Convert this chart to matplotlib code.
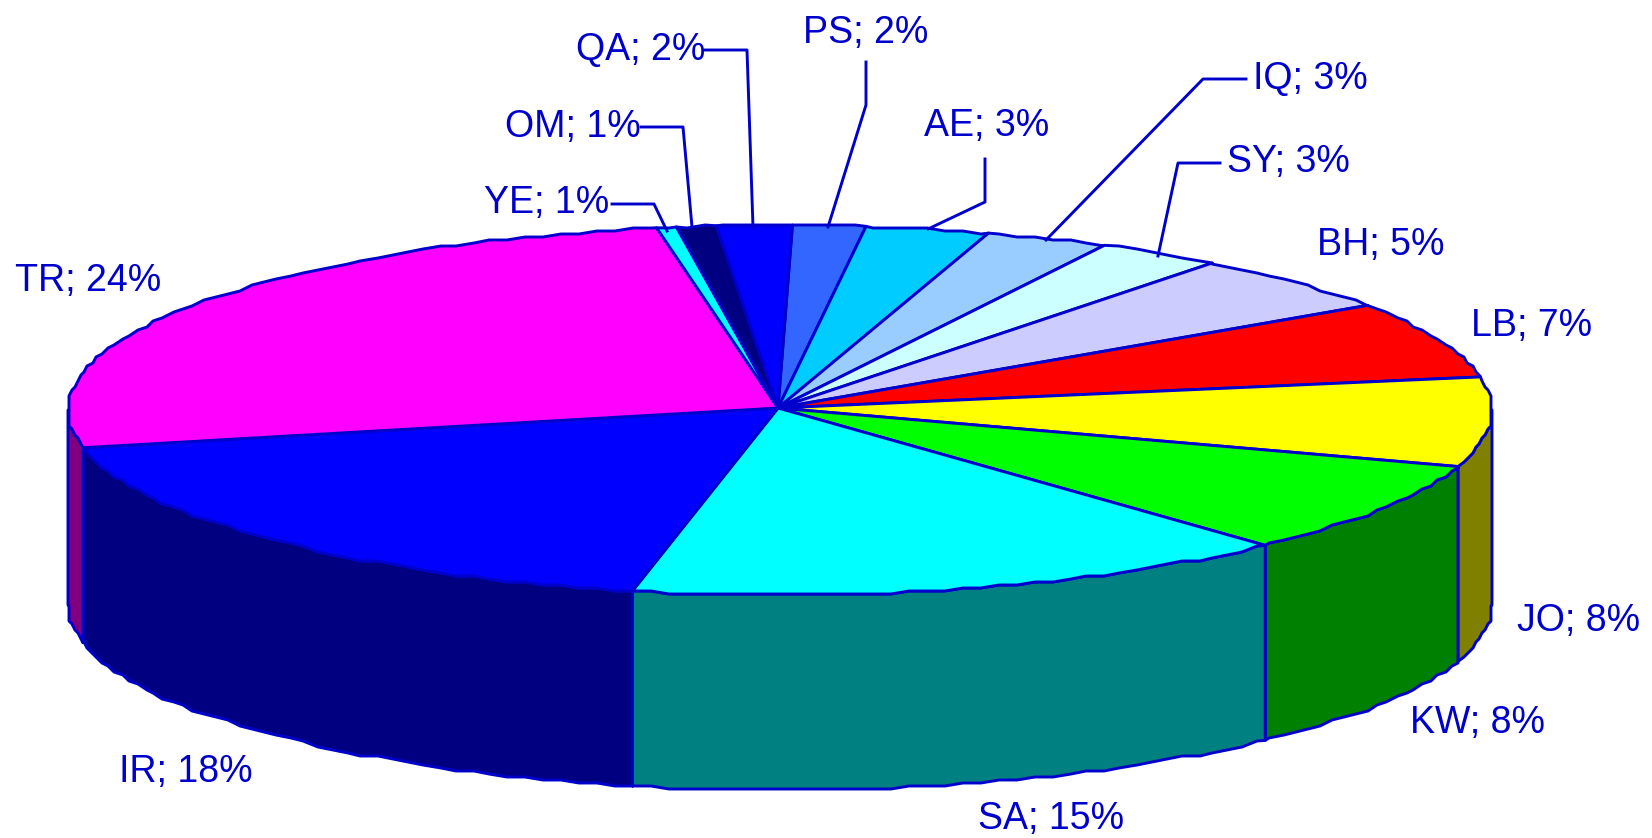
import numpy as np
import matplotlib
matplotlib.use('Agg')
import matplotlib.pyplot as plt
from matplotlib.patches import Polygon

codes = ['PS', 'AE', 'IQ', 'SY', 'BH', 'LB', 'JO', 'KW', 'SA', 'IR', 'TR', 'YE', 'OM', 'QA']
shares = [1.65, 2.8, 2.8, 2.85, 5.05, 6.7, 7.8, 8.12, 15.25, 18.4, 25.48, 0.45, 0.9, 1.7]
shown_pct = [2, 3, 3, 3, 5, 7, 8, 8, 15, 18, 24, 1, 1, 2]

top_colors = ['#3366FF', '#00CCFF', '#99CCFF', '#CCFFFF', '#CCCCFF', '#FF0000', '#FFFF00',
              '#00FF00', '#00FFFF', '#0000FF', '#FF00FF', '#00FFFF', '#000080', '#0000FF']
side_colors = {'JO': '#808000', 'KW': '#008000', 'SA': '#008080', 'IR': '#000080', 'TR': '#800080'}

# left edge, vertical centre of each label, in pixels
label_pos = {'PS': (803, 33), 'AE': (924, 126), 'IQ': (1253, 79), 'SY': (1227, 162),
             'BH': (1317, 245), 'LB': (1471, 326), 'JO': (1517, 621), 'KW': (1410, 723),
             'SA': (978, 819), 'IR': (119, 772), 'TR': (15, 281), 'YE': (484, 203),
             'OM': (505, 127), 'QA': (576, 50)}

leaders = {'YE': [(612, 204), (654, 204), (667, 231)],
           'OM': [(641, 127), (683, 127), (692, 227)],
           'QA': [(705, 50), (747, 50), (753, 227)],
           'PS': [(866, 62), (866, 105), (828, 227)],
           'AE': [(985, 159), (985, 202), (928, 229)],
           'IQ': [(1246, 79), (1203, 79), (1046, 240)],
           'SY': [(1220, 163), (1178, 163), (1158, 256)]}

CX, CY = 780, 410
RX, RY = 712, 185
DEPTH = 195
START = 1.0
STEP = 1.5
GRID = 3
EDGE = '#0000CC'
LW = 2.1


def rim(t0, t1):
    # outline of the top ellipse, snapped to a coarse grid like the original
    k0 = np.ceil(t0 / STEP)
    k1 = np.floor(t1 / STEP)
    inner = np.arange(k0, k1 + 1) * STEP
    t = np.concatenate([[t0], inner, [t1]])
    r = np.radians(t)
    x = CX + RX * np.sin(r)
    y = CY - RY * np.cos(r)
    pts = np.column_stack([x, y])
    pts[1:-1] = np.round(pts[1:-1] / GRID) * GRID
    return pts


def main():
    fig = plt.figure(figsize=(16.52, 8.38), dpi=100)
    ax = fig.add_axes([0, 0, 1, 1])
    ax.set_xlim(0, 1652)
    ax.set_ylim(838, 0)
    ax.axis('off')

    edges = START + np.cumsum([0] + shares) * 360.0 / sum(shares)

    # side walls, only the front half of the pie shows
    for i, code in enumerate(codes):
        t0 = max(edges[i], 90)
        t1 = min(edges[i + 1], 270)
        if t1 <= t0:
            continue
        front = rim(t0, t1)
        back = front[::-1] + [0, DEPTH]
        ax.add_patch(Polygon(np.vstack([front, back]), closed=True,
                             facecolor=side_colors[code], edgecolor=EDGE, linewidth=LW, joinstyle='round'))

    # top face
    for i, code in enumerate(codes):
        pts = np.vstack([[CX - 2, CY - 2], rim(edges[i], edges[i + 1])])
        ax.add_patch(Polygon(pts, closed=True, facecolor=top_colors[i],
                             edgecolor=EDGE, linewidth=LW, joinstyle='round'))

    for code, pts in leaders.items():
        xs, ys = zip(*pts)
        ax.plot(xs, ys, color=EDGE, linewidth=LW)

    for code, pct in zip(codes, shown_pct):
        x, y = label_pos[code]
        ax.text(x, y, '%s; %d%%' % (code, pct), color=EDGE, fontsize=27,
                family='Liberation Sans', ha='left', va='center')

    fig.savefig('out.png', dpi=100, facecolor='white')


if __name__ == '__main__':
    main()
